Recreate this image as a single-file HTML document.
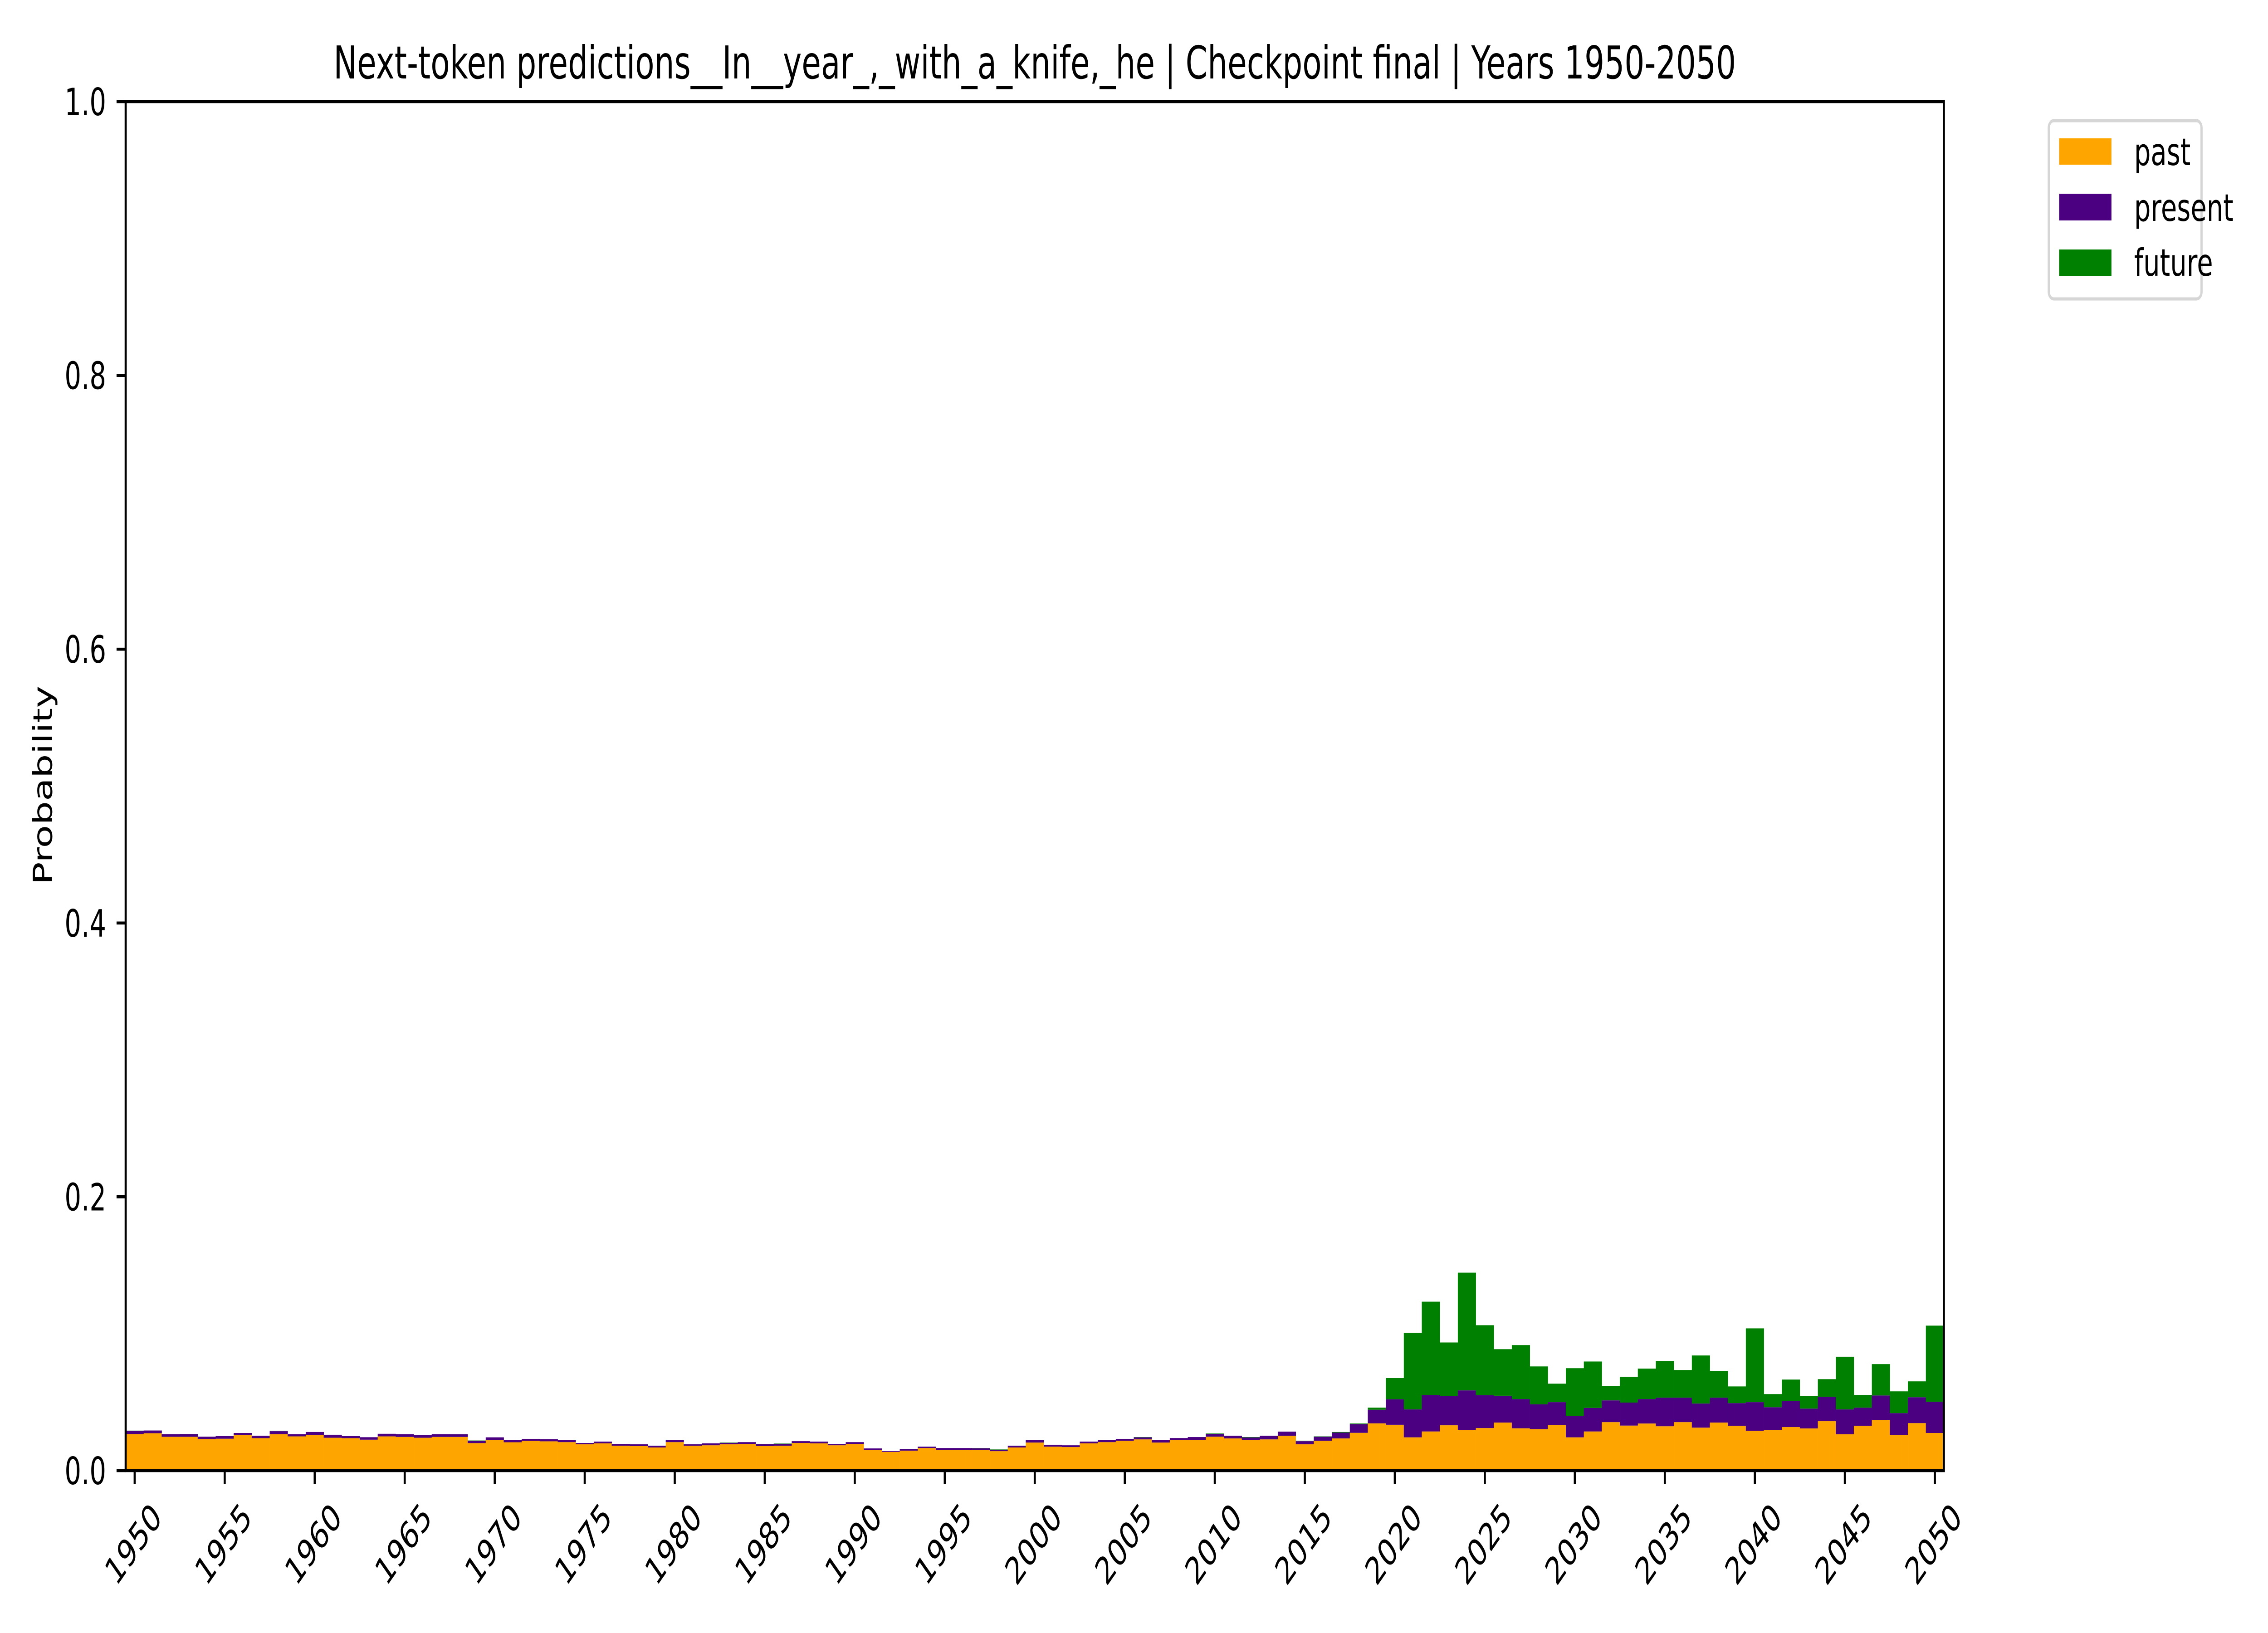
<!DOCTYPE html>
<html><head><meta charset="utf-8"><style>
html,body{margin:0;padding:0;background:#fff;overflow:hidden;width:100vw;height:100vh;}
svg{display:block;width:100vw;height:100vh;font-family:"DejaVu Sans","Liberation Sans",sans-serif;}
</style></head><body>
<svg id="chart" viewBox="0 0 7200 3600" preserveAspectRatio="none" xmlns="http://www.w3.org/2000/svg">
<rect width="7200" height="3600" fill="#fff"/>
<text x="3285" y="173" font-size="100" text-anchor="middle">Next-token predictions__In__year_,_with_a_knife,_he | Checkpoint final | Years 1950-2050</text>
<text x="0" y="0" font-size="83" text-anchor="middle" transform="translate(165,1731) rotate(-90)">Probability</text>
<g id="bars"></g>
<g id="yticks"></g>
<g id="xticks"></g>
<rect x="399" y="224" width="5772" height="3018" fill="none" stroke="#000" stroke-width="6.7"/>
<g>
<rect x="6504" y="266" width="485" height="393" rx="16" fill="#fff" stroke="#d6d6d6" stroke-width="7"/>
<rect x="6537" y="305" width="166" height="58" fill="#ffa500"/>
<text x="6775" y="364" font-size="83">past</text>
<rect x="6537" y="427" width="166" height="59" fill="#4b0082"/>
<text x="6775" y="487" font-size="83">present</text>
<rect x="6537" y="550" width="166" height="58" fill="#008000"/>
<text x="6775" y="608" font-size="83">future</text>
</g>
</svg>
<script>
const years = [];
for (let y = 1950; y <= 2050; y++) years.push(y);
const pastValues = [
.0267,.0273,.0247,.0247,.0230,.0233,.0259,.0237,.0266,.0250,
.0259,.0240,.0237,.0226,.0250,.0246,.0240,.0246,.0246,.0201,
.0224,.0207,.0217,.0214,.0208,.0192,.0199,.0182,.0179,.0169,
.0208,.0182,.0185,.0192,.0195,.0179,.0182,.0202,.0199,.0185,
.0195,.0152,.0136,.0146,.0165,.0152,.0152,.0152,.0142,.0169,
.0205,.0175,.0172,.0199,.0208,.0218,.0228,.0205,.0222,.0225,
.0248,.0235,.0222,.0228,.0255,.0192,.0218,.0235,.0276,.0345,
.0335,.0243,.0286,.0331,.0296,.0311,.0351,.0309,.0303,.0332,
.0243,.0286,.0354,.0329,.0344,.0324,.0354,.0314,.0351,.0328,
.0291,.0298,.0318,.0308,.0361,.0265,.0328,.0371,.0261,.0347,
.0275];
const presentValues = [
.0024,.0020,.0019,.0020,.0018,.0019,.0016,.0018,.0022,.0016,
.0023,.0022,.0015,.0018,.0019,.0020,.0019,.0020,.0019,.0017,
.0019,.0015,.0015,.0015,.0014,.0010,.0013,.0013,.0013,.0013,
.0014,.0010,.0014,.0011,.0013,.0014,.0014,.0013,.0013,.0010,
.0013,.0010,.0006,.0011,.0010,.0013,.0013,.0011,.0011,.0013,
.0017,.0014,.0013,.0013,.0017,.0014,.0015,.0017,.0016,.0020,
.0020,.0020,.0020,.0027,.0030,.0023,.0030,.0043,.0063,.0100,
.0186,.0204,.0267,.0213,.0290,.0239,.0196,.0214,.0181,.0168,
.0155,.0172,.0159,.0168,.0179,.0209,.0179,.0176,.0182,.0165,
.0209,.0165,.0192,.0145,.0178,.0182,.0132,.0178,.0159,.0189,
.0228];
const futureValues = [
.0001,0,0,.0001,0,0,0,0,.0002,0,
0,0,0,0,0,0,0,0,.0001,.0002,
0,0,0,0,0,0,0,0,0,0,
0,0,0,.0002,0,.0002,.0002,0,0,0,
0,0,0,.0002,0,0,0,.0002,.0002,0,
0,0,0,0,0,0,.0002,0,0,0,
.0003,0,.0003,0,0,.0003,.0002,.0004,.0005,.0015,
.0155,.0559,.0681,.0392,.0860,.0512,.0340,.0394,.0277,.0135,
.0350,.0339,.0106,.0188,.0222,.0268,.0202,.0351,.0195,.0122,
.0539,.0096,.0155,.0093,.0129,.0385,.0093,.0229,.0159,.0116,
.0556];
const yTickValues = [0, 0.2, 0.4, 0.6, 0.8, 1.0];
const yTickLabels = ["0.0","0.2","0.4","0.6","0.8","1.0"];
const xTickYears = [1950,1955,1960,1965,1970,1975,1980,1985,1990,1995,2000,2005,2010,2015,2020,2025,2030,2035,2040,2045,2050];

const NS = "http://www.w3.org/2000/svg";
const L = 399, R = 6171, T = 224, B = 3242;
const xMin = 1949.5, xMax = 2050.5;
function xs(v){ return L + (v - xMin) / (xMax - xMin) * (R - L); }
function ys(v){ return B - v * (B - T); }
function mk(tag, attrs){ const e = document.createElementNS(NS, tag); for (const k in attrs) e.setAttribute(k, attrs[k]); return e; }

const bars = document.getElementById('bars');
const series = [[pastValues,'#ffa500','past'],[presentValues,'#4b0082','present'],[futureValues,'#008000','future']];
years.forEach((yr, i) => {
  let base = 0;
  series.forEach(([arr, col, nm]) => {
    const v = arr[i];
    const x0 = xs(yr - 0.5), x1 = xs(yr + 0.5);
    const y0 = ys(base), y1 = ys(base + v);
    const r = mk('rect', {x: x0, y: y1, width: x1 - x0 + 0.5, height: Math.max(0, y0 - y1), fill: col});
    
    
    bars.appendChild(r);
    base += v;
  });
});

const yt = document.getElementById('yticks');
yTickValues.forEach((v, i) => {
  const y = ys(v);
  const ln = mk('line', {x1: L - 29, x2: L, y1: y, y2: y, stroke: '#000', 'stroke-width': 6.7});
  
  
  yt.appendChild(ln);
  const t = mk('text', {x: 337, y: y + 30, 'font-size': 83, 'text-anchor': 'end'});
  
  
  t.textContent = yTickLabels[i];
  yt.appendChild(t);
});

const xt = document.getElementById('xticks');
xTickYears.forEach(yr => {
  const x = xs(yr);
  const ln = mk('line', {x1: x, x2: x, y1: B, y2: B + 29, stroke: '#000', 'stroke-width': 6.7});
  
  
  xt.appendChild(ln);
  const t = mk('text', {x: 0, y: 0, 'font-size': 83, 'text-anchor': 'middle', 'dominant-baseline': 'central', transform: 'translate(' + (x - 4) + ',3404) rotate(-45)'});
  
  
  t.textContent = String(yr);
  xt.appendChild(t);
});
</script>
</body></html>
